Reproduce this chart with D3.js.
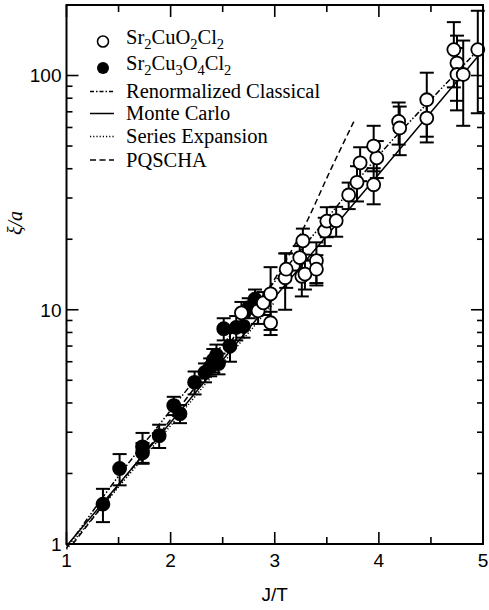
<!DOCTYPE html>
<html>
<head>
<meta charset="utf-8">
<script src="https://cdn.jsdelivr.net/npm/d3@7"></script>
<style>
    body {margin: 0; background: #fff;}
    .tick-label {font-family: "Liberation Sans", Arial, sans-serif; font-size: 19px;}
    .legend text {font-family: "Liberation Serif", "Times New Roman", serif; font-size: 20.5px;}
</style>
</head>
<body>
<svg id="chart"></svg>
<script>
// Sr2CuO2Cl2 (open circles)
const openX   = [2.68, 2.84, 2.89, 2.96, 2.96, 3.10, 3.11, 3.24, 3.27, 3.26, 3.29, 3.40, 3.40, 3.48, 3.50, 3.59, 3.71, 3.79, 3.82, 3.95, 3.98, 3.95, 4.19, 4.20, 4.46, 4.46, 4.72, 4.75, 4.75, 4.81, 4.95];
const openY   = [9.7, 9.9, 10.7, 11.7, 8.8, 13.7, 14.9, 16.7, 19.7, 13.9, 14.2, 16.2, 14.9, 21.7, 23.9, 24.0, 30.9, 35, 42.4, 34.2, 44.5, 50, 63.7, 59.7, 78.8, 65.8, 129, 113, 101, 101, 129];
const openErr = [1.1, 1.2, 1.2, 3.5, 1.0, 3.7, 2.5, 2.0, 2.5, 2.5, 2.0, 3.2, 2.2, 3, 3.5, 3.5, 4, 6, 7, 6, 8, 11, 13, 14, 24, 14, 40, 35, 30, 40, 60];

// Sr2Cu3O4Cl2 (filled circles)
const filledX   = [1.35, 1.51, 1.73, 1.73, 1.89, 2.03, 2.09, 2.23, 2.33, 2.38, 2.41, 2.44, 2.46, 2.51, 2.57, 2.63, 2.70, 2.75, 2.81];
const filledY   = [1.48, 2.1, 2.6, 2.45, 2.9, 3.9, 3.6, 4.9, 5.4, 5.7, 6.1, 6.4, 5.9, 8.3, 7.0, 8.4, 8.5, 10.2, 11.1];
const filledErr = [0.24, 0.32, 0.38, 0.25, 0.33, 0.35, 0.32, 0.55, 0.5, 0.5, 0.7, 0.7, 0.6, 0.9, 1.0, 1.0, 0.9, 1.0, 1.1];

// theory curves
const rcX = [1.0, 1.5, 2.0, 2.5, 3.0, 3.5, 4.0, 4.5, 4.95];
const rcY = [0.96, 1.95, 3.72, 7.1, 13.2, 24.5, 45.7, 79, 128];
const mcX = [1.0, 2.0, 3.0, 4.0, 5.0];
const mcY = [0.98, 3.3, 11.3, 38, 128];
const seX = [1.0, 1.5, 2.0, 2.5, 3.0];
const seY = [0.95, 1.75, 3.2, 5.9, 10.8];
const pqX = [1.06, 1.5, 2.0, 2.19, 2.5, 2.8, 3.05, 3.3, 3.53, 3.77];
const pqY = [1.0, 1.78, 3.4, 4.4, 6.6, 10, 14.7, 23.4, 39, 65];

const xTicks = [1, 2, 3, 4, 5];
const xMinor = [1.5, 2.5, 3.5, 4.5];
const yTicks = [1, 10, 100];
const yMinor = [2, 3, 4, 5, 6, 7, 8, 9, 20, 30, 40, 50, 60, 70, 80, 90];

let XiPlot = function() {
    let graphicopt = {
            margin: {top: 5, right: 6, bottom: 66, left: 66.5},
            width: 489,
            height: 610,
            widthG: function(){return this.width-this.margin.left-this.margin.right},
            heightG: function(){return this.height-this.margin.top-this.margin.bottom},
        },
        svg, g;
    let plot = {};

    let x = d3.scaleLinear().domain([1, 5]);
    let y = d3.scaleLog().domain([1, 200]);

    function drawAxes(){
        const w = graphicopt.widthG(), h = graphicopt.heightG();
        let ax = g.append("g").attr("class", "axes")
            .style("stroke", "#000").style("stroke-width", 1.6);
        // x ticks, bottom pointing up and top pointing down
        xTicks.concat(xMinor).forEach(t => {
            let len = xTicks.includes(t) ? 12 : 7;
            ax.append("line").attr("x1", x(t)).attr("x2", x(t)).attr("y1", h).attr("y2", h-len);
            ax.append("line").attr("x1", x(t)).attr("x2", x(t)).attr("y1", 0).attr("y2", len);
        });
        yTicks.concat(yMinor).forEach(t => {
            let len = yTicks.includes(t) ? 12 : 6;
            ax.append("line").attr("x1", 0).attr("x2", len).attr("y1", y(t)).attr("y2", y(t));
            ax.append("line").attr("x1", w).attr("x2", w-len).attr("y1", y(t)).attr("y2", y(t));
        });
        g.append("rect").attr("width", w).attr("height", h)
            .attr("fill", "none").attr("stroke", "#000").attr("stroke-width", 2);

        g.selectAll(".xlab").data(xTicks).enter().append("text")
            .attr("class", "tick-label xlab")
            .attr("x", d => x(d)).attr("y", h + 23)
            .attr("text-anchor", "middle").text(d => d);
        g.selectAll(".ylab").data(yTicks).enter().append("text")
            .attr("class", "tick-label ylab")
            .attr("x", -5).attr("y", d => y(d)).attr("dy", "0.36em")
            .attr("text-anchor", "end").text(d => d);

        g.append("text").attr("class", "tick-label")
            .attr("x", w/2).attr("y", h + 57)
            .attr("text-anchor", "middle").text("J/T");
        let yt = g.append("text")
            .attr("transform", `translate(${-45},${218}) rotate(-90)`)
            .attr("text-anchor", "middle")
            .style("font-family", "'Liberation Serif', 'Times New Roman', serif")
            .style("font-size", "20px").style("font-style", "italic");
        yt.append("tspan").text("ξ/");
        yt.append("tspan").text("a");
    }

    function drawCurves(){
        const curves = [
            {xs: rcX, ys: rcY, dash: "6,2,1.5,2,1.5,2"},
            {xs: mcX, ys: mcY, dash: null},
            {xs: seX, ys: seY, dash: "1.2,2"},
            {xs: pqX, ys: pqY, dash: "6,3.5"},
        ];
        let line = d3.line().x(d => x(d[0])).y(d => y(d[1])).curve(d3.curveMonotoneX);
        g.append("g").attr("class", "curves")
            .selectAll("path").data(curves).enter().append("path")
            .attr("d", d => line(d.xs.map((v, i) => [v, d.ys[i]])))
            .attr("fill", "none").attr("stroke", "#000").attr("stroke-width", 1.5)
            .attr("stroke-dasharray", d => d.dash);
    }

    function drawSeries(xs, ys, errs, filled, cls){
        let data = xs.map((v, i) => ({x: v, y: ys[i], e: errs[i]}));
        let sg = g.append("g").attr("class", cls);
        let bars = sg.selectAll(".err").data(data).enter().append("g").attr("class", "err")
            .style("stroke", "#000").style("stroke-width", 2);
        const cap = 7;
        bars.append("line").attr("x1", d => x(d.x)).attr("x2", d => x(d.x))
            .attr("y1", d => y(d.y + d.e)).attr("y2", d => y(Math.max(d.y - d.e, 1)));
        bars.append("line").attr("x1", d => x(d.x)-cap).attr("x2", d => x(d.x)+cap)
            .attr("y1", d => y(d.y + d.e)).attr("y2", d => y(d.y + d.e));
        bars.append("line").attr("x1", d => x(d.x)-cap).attr("x2", d => x(d.x)+cap)
            .attr("y1", d => y(d.y - d.e)).attr("y2", d => y(d.y - d.e));
        sg.selectAll("circle").data(data).enter().append("circle")
            .attr("cx", d => x(d.x)).attr("cy", d => y(d.y)).attr("r", 6.5)
            .attr("fill", filled ? "#000" : "#fff")
            .attr("stroke", "#000").attr("stroke-width", 1.8);
    }

    function drawLegend(){
        let lg = svg.append("g").attr("class", "legend");
        const lx = 103, tx = 126;
        lg.append("circle").attr("cx", lx).attr("cy", 41.5).attr("r", 5.5)
            .attr("fill", "#fff").attr("stroke", "#000").attr("stroke-width", 1.6);
        lg.append("circle").attr("cx", lx).attr("cy", 68).attr("r", 6)
            .attr("fill", "#000");
        let formula = (yy, parts) => {
            let t = lg.append("text").attr("x", tx).attr("y", yy);
            parts.forEach(p => {
                if (p.sub) t.append("tspan").attr("dy", 5).style("font-size", "14.5px").text(p.sub);
                else t.append("tspan").attr("dy", t.selectAll("tspan").size() ? -5 : 0).text(p.t);
            });
        };
        formula(48.5, [{t: "Sr"}, {sub: "2"}, {t: "CuO"}, {sub: "2"}, {t: "Cl"}, {sub: "2"}]);
        formula(74.5, [{t: "Sr"}, {sub: "2"}, {t: "Cu"}, {sub: "3"}, {t: "O"}, {sub: "4"}, {t: "Cl"}, {sub: "2"}]);
        const rows = [
            {y: 91.5, label: "Renormalized Classical", dash: "4,2,1.5,2"},
            {y: 113.5, label: "Monte Carlo", dash: null},
            {y: 136.5, label: "Series Expansion", dash: "1.2,2"},
            {y: 160, label: "PQSCHA", dash: "6,3.5"},
        ];
        rows.forEach(r => {
            lg.append("line").attr("x1", 90).attr("x2", 114).attr("y1", r.y).attr("y2", r.y)
                .attr("stroke", "#000").attr("stroke-width", 1.5).attr("stroke-dasharray", r.dash);
            lg.append("text").attr("x", tx).attr("y", r.y + 6.5).text(r.label);
        });
    }

    plot.init = function(){
        svg.attr("width", graphicopt.width).attr("height", graphicopt.height);
        x.range([0, graphicopt.widthG()]);
        y.range([graphicopt.heightG(), 0]);
        g = svg.append("g")
            .attr("transform", `translate(${graphicopt.margin.left},${graphicopt.margin.top})`);
        drawCurves();
        drawSeries(filledX, filledY, filledErr, true, "filled");
        drawSeries(openX, openY, openErr, false, "open");
        drawAxes();
        drawLegend();
        return plot;
    };
    plot.svg = function (_) {
        return arguments.length ? (svg = _, plot) : svg;
    };
    return plot;
};

XiPlot().svg(d3.select("#chart")).init();
</script>
</body>
</html>
